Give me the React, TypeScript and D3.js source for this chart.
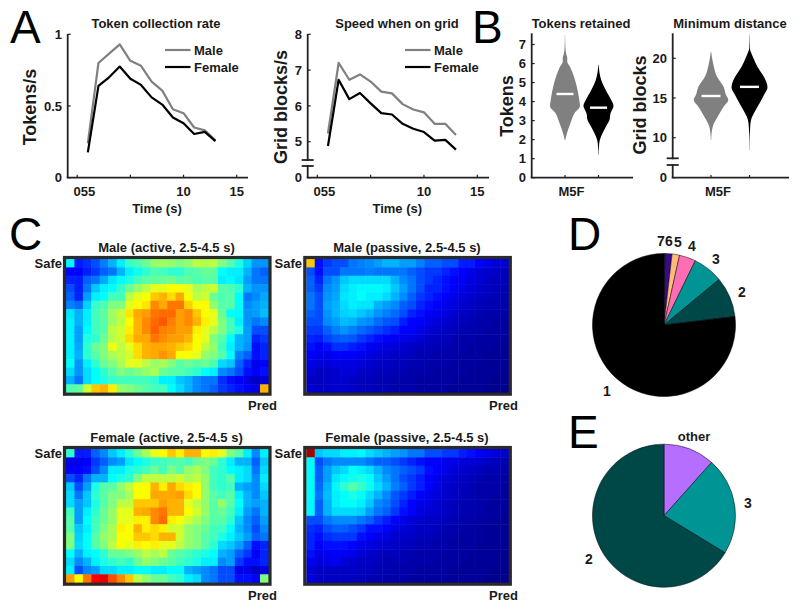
import React from 'react';
import * as d3 from 'd3';

// time bins (s) shared by both line plots
const timeBins = [1, 2, 3, 4, 5, 6, 7, 8, 9, 10, 11, 12, 13];
const tokenRateMale = [0.24, 0.8, 0.865, 0.93, 0.815, 0.78, 0.67, 0.607, 0.477, 0.45, 0.35, 0.33, 0.26];
const tokenRateFemale = [0.177, 0.64, 0.7, 0.775, 0.69, 0.647, 0.56, 0.51, 0.42, 0.38, 0.305, 0.32, 0.255];
const speedMale = [5.23, 7.2, 6.73, 6.88, 6.68, 6.4, 6.35, 6.05, 5.9, 5.82, 5.5, 5.5, 5.19];
const speedFemale = [4.88, 6.73, 6.19, 6.36, 6.07, 5.8, 5.76, 5.5, 5.36, 5.27, 5.03, 5.05, 4.78];
const xTicks = [0, 5, 10, 15];

// violins: [value, relative density]
const tokensMaleViolin = [[7.5, .01], [6.8, .03], [6.5, .08], [6.3, .15], [6.1, .15], [5.84, .33], [5.3, .6], [4.8, .78], [4.1, .95], [3.77, 1], [3.4, .64], [2.86, .36], [2.33, .13], [1.98, .02]];
const tokensFemaleViolin = [[5.93, .01], [5.14, .18], [4.6, .49], [4.09, .84], [3.77, 1], [3.39, .8], [3.03, .73], [2.68, .49], [2.33, .27], [1.98, .09], [1.63, .03], [1.2, .01]];
const distMaleViolin = [[20.84, .01], [19, .15], [17.7, .33], [16.4, .7], [15.4, .83], [14.75, .96], [13.9, .7], [12.65, .37], [11.5, .11], [10.5, .03], [9.7, .01]];
const distFemaleViolin = [[23, .005], [21.2, .02], [20.84, .07], [20, .22], [18.95, .44], [17.9, .74], [17.06, .93], [16.35, 1], [15.4, .81], [14.3, .55], [13.3, .3], [12.4, .11], [11.4, .04], [9.7, .01], [8.4, .005]];
const tokensMedians = [4.4, 3.68];
const distMedians = [15.25, 16.4];

// occupancy maps, jet colormap position in percent, 16 rows x 24 columns
const maleActive = [
  [37, 15, 17, 20, 25, 30, 36, 43, 45, 48, 52, 53, 52, 50, 52, 56, 55, 56, 50, 46, 40, 33, 27, 27],
  [13, 13, 15, 18, 22, 24, 30, 36, 39, 42, 45, 44, 42, 42, 45, 46, 48, 47, 38, 36, 36, 30, 24, 22],
  [16, 15, 22, 24, 29, 35, 38, 40, 44, 46, 47, 48, 49, 46, 47, 45, 46, 46, 36, 37, 35, 28, 24, 24],
  [20, 15, 24, 32, 36, 38, 43, 48, 52, 56, 60, 60, 62, 62, 60, 54, 56, 58, 46, 45, 42, 30, 27, 27],
  [22, 16, 28, 36, 38, 44, 44, 56, 60, 62, 68, 70, 66, 71, 62, 56, 58, 48, 45, 46, 38, 24, 26, 29],
  [25, 23, 33, 43, 45, 50, 50, 60, 63, 65, 74, 71, 76, 76, 67, 62, 63, 52, 46, 46, 38, 26, 28, 30],
  [35, 30, 36, 44, 47, 53, 57, 65, 71, 72, 76, 77, 77, 72, 74, 68, 62, 60, 48, 38, 37, 27, 28, 31],
  [36, 30, 36, 44, 46, 53, 56, 62, 70, 74, 77, 79, 75, 72, 74, 70, 64, 60, 50, 44, 36, 27, 24, 26],
  [36, 28, 37, 44, 46, 56, 58, 64, 70, 74, 78, 75, 74, 72, 72, 64, 60, 56, 50, 44, 40, 28, 20, 20],
  [36, 28, 40, 42, 48, 55, 58, 66, 71, 71, 76, 74, 72, 72, 70, 62, 60, 50, 46, 38, 30, 28, 16, 18],
  [36, 29, 42, 48, 50, 61, 56, 60, 66, 70, 71, 71, 70, 68, 66, 62, 56, 52, 44, 36, 30, 27, 14, 16],
  [36, 30, 42, 46, 50, 54, 56, 58, 66, 70, 71, 73, 71, 62, 62, 60, 52, 50, 46, 38, 25, 22, 14, 16],
  [38, 27, 36, 42, 48, 50, 54, 60, 60, 56, 52, 54, 50, 46, 48, 46, 48, 45, 34, 32, 22, 16, 10, 13],
  [34, 27, 34, 38, 42, 46, 50, 48, 50, 52, 54, 48, 46, 46, 44, 42, 38, 36, 26, 24, 20, 14, 12, 14],
  [30, 24, 34, 38, 40, 43, 44, 44, 44, 44, 42, 36, 36, 32, 30, 26, 24, 24, 17, 14, 12, 9, 6, 8],
  [45, 47, 58, 68, 70, 64, 52, 50, 48, 46, 44, 44, 38, 34, 30, 26, 24, 22, 18, 16, 14, 12, 10, 70],
];
const malePassive = [
  [68, 14, 18, 20, 20, 24, 25, 26, 28, 30, 30, 28, 28, 25, 22, 22, 20, 20, 15, 15, 13, 10, 8, 8],
  [20, 14, 20, 20, 24, 24, 24, 25, 24, 24, 24, 24, 22, 20, 18, 18, 16, 14, 12, 10, 8, 7, 6, 5],
  [22, 16, 24, 27, 32, 34, 34, 34, 34, 34, 30, 26, 24, 20, 18, 16, 14, 12, 11, 9, 8, 6, 5, 5],
  [22, 18, 26, 28, 34, 36, 37, 37, 37, 36, 32, 28, 24, 20, 16, 16, 14, 12, 10, 8, 7, 6, 5, 4],
  [24, 20, 27, 29, 35, 36, 38, 36, 36, 34, 30, 26, 22, 18, 16, 14, 12, 10, 8, 7, 6, 5, 4, 4],
  [24, 20, 28, 30, 34, 36, 35, 35, 30, 28, 26, 22, 20, 16, 14, 12, 10, 9, 7, 6, 5, 4, 4, 3],
  [22, 20, 27, 30, 33, 34, 32, 30, 27, 25, 23, 20, 16, 14, 12, 10, 9, 7, 6, 5, 4, 3, 3, 3],
  [20, 20, 26, 28, 31, 30, 27, 26, 23, 21, 20, 15, 13, 12, 10, 8, 7, 6, 5, 4, 3, 3, 2, 2],
  [18, 18, 22, 25, 27, 25, 23, 21, 19, 17, 15, 13, 12, 10, 8, 7, 6, 5, 4, 3, 3, 2, 2, 2],
  [16, 15, 19, 21, 22, 21, 18, 16, 14, 13, 11, 10, 9, 8, 6, 5, 5, 4, 3, 3, 2, 2, 2, 2],
  [14, 12, 14, 17, 17, 15, 14, 11, 10, 9, 8, 7, 6, 5, 5, 4, 4, 3, 3, 2, 2, 2, 1, 1],
  [12, 10, 10, 12, 12, 12, 10, 9, 8, 7, 6, 6, 5, 4, 4, 3, 3, 3, 2, 2, 2, 1, 1, 1],
  [10, 8, 8, 9, 9, 9, 8, 7, 6, 6, 5, 5, 4, 4, 3, 3, 3, 2, 2, 2, 1, 1, 1, 1],
  [8, 6, 6, 7, 8, 8, 6, 6, 5, 5, 4, 4, 3, 3, 3, 2, 2, 2, 2, 1, 1, 1, 1, 1],
  [6, 5, 6, 7, 7, 6, 5, 5, 4, 4, 3, 3, 3, 2, 2, 2, 2, 2, 1, 1, 1, 1, 0, 0],
  [7, 6, 6, 7, 7, 6, 5, 5, 4, 4, 3, 3, 3, 2, 2, 2, 2, 1, 1, 1, 1, 0, 0, 0],
];
const femaleActive = [
  [42, 15, 15, 22, 26, 32, 36, 42, 48, 54, 60, 62, 68, 64, 70, 70, 63, 64, 60, 50, 46, 36, 26, 36],
  [10, 10, 12, 18, 22, 26, 28, 35, 38, 40, 43, 44, 45, 46, 44, 48, 50, 48, 42, 36, 30, 30, 22, 32],
  [12, 12, 14, 20, 26, 36, 36, 40, 42, 44, 48, 44, 50, 46, 52, 54, 50, 44, 42, 38, 36, 34, 24, 34],
  [20, 16, 24, 30, 30, 38, 40, 42, 50, 56, 56, 56, 56, 58, 54, 56, 52, 44, 42, 46, 36, 34, 26, 36],
  [32, 20, 28, 40, 46, 46, 52, 56, 62, 62, 70, 64, 71, 66, 64, 62, 52, 44, 42, 44, 30, 28, 26, 34],
  [34, 24, 32, 42, 46, 50, 50, 54, 62, 62, 71, 71, 71, 72, 66, 62, 52, 46, 44, 46, 36, 30, 26, 32],
  [34, 28, 32, 40, 46, 50, 56, 56, 68, 68, 68, 72, 70, 70, 60, 56, 52, 46, 52, 46, 38, 30, 28, 30],
  [44, 28, 36, 42, 48, 52, 60, 60, 70, 71, 74, 76, 70, 70, 62, 58, 52, 46, 48, 44, 36, 28, 24, 30],
  [46, 28, 38, 44, 48, 52, 60, 60, 64, 64, 74, 77, 64, 62, 58, 54, 50, 46, 46, 42, 32, 26, 22, 28],
  [46, 32, 36, 44, 50, 54, 64, 62, 70, 64, 66, 64, 58, 58, 52, 50, 48, 44, 44, 38, 30, 26, 20, 26],
  [50, 33, 38, 46, 52, 54, 62, 62, 68, 68, 66, 70, 70, 58, 52, 50, 46, 44, 40, 36, 32, 28, 22, 24],
  [50, 34, 38, 46, 50, 56, 62, 60, 64, 62, 64, 60, 60, 56, 52, 50, 46, 42, 34, 32, 28, 22, 14, 16],
  [38, 30, 36, 38, 42, 48, 48, 50, 52, 56, 54, 56, 48, 46, 44, 42, 40, 38, 30, 28, 22, 18, 12, 16],
  [34, 26, 30, 36, 40, 42, 44, 42, 48, 52, 50, 48, 46, 44, 42, 40, 36, 36, 26, 28, 18, 14, 14, 16],
  [36, 20, 26, 28, 34, 34, 36, 36, 38, 38, 36, 36, 38, 38, 30, 28, 26, 24, 20, 20, 10, 10, 6, 9],
  [72, 62, 76, 88, 90, 80, 74, 68, 56, 52, 48, 48, 44, 42, 36, 34, 26, 24, 20, 20, 14, 14, 12, 50],
];
const femalePassive = [
  [96, 32, 34, 34, 36, 36, 37, 34, 32, 30, 28, 27, 24, 24, 20, 20, 18, 18, 15, 14, 12, 10, 8, 7],
  [38, 20, 24, 26, 26, 26, 26, 24, 22, 22, 20, 18, 16, 14, 12, 12, 10, 10, 8, 8, 7, 6, 5, 4],
  [38, 22, 28, 32, 34, 38, 36, 34, 30, 26, 24, 22, 20, 18, 14, 12, 10, 8, 7, 6, 5, 4, 4, 3],
  [38, 22, 28, 35, 37, 39, 40, 38, 32, 28, 24, 20, 18, 15, 13, 10, 8, 7, 6, 5, 4, 3, 3, 2],
  [38, 23, 30, 37, 42, 46, 43, 39, 34, 30, 25, 22, 18, 15, 12, 9, 7, 6, 5, 4, 3, 3, 3, 2],
  [38, 24, 31, 36, 38, 40, 38, 34, 30, 26, 21, 18, 15, 13, 10, 8, 7, 6, 5, 4, 3, 3, 2, 2],
  [37, 22, 30, 36, 38, 38, 36, 32, 26, 24, 20, 16, 13, 10, 9, 7, 6, 5, 4, 4, 3, 2, 2, 2],
  [37, 22, 30, 34, 34, 34, 33, 28, 24, 22, 18, 14, 12, 9, 8, 7, 6, 5, 4, 3, 3, 2, 2, 1],
  [20, 20, 24, 26, 26, 26, 24, 22, 18, 15, 13, 10, 8, 7, 6, 6, 5, 4, 3, 3, 2, 2, 1, 1],
  [17, 16, 20, 22, 22, 20, 18, 14, 14, 12, 9, 8, 7, 6, 6, 5, 4, 3, 3, 2, 2, 1, 1, 1],
  [16, 14, 17, 18, 18, 18, 14, 12, 10, 9, 7, 7, 6, 5, 5, 4, 3, 3, 2, 2, 2, 1, 1, 1],
  [16, 12, 14, 14, 14, 12, 10, 9, 8, 7, 6, 5, 5, 4, 4, 3, 3, 2, 2, 2, 1, 1, 1, 1],
  [14, 10, 11, 12, 11, 10, 8, 7, 6, 5, 5, 4, 4, 3, 3, 3, 2, 2, 2, 1, 1, 1, 1, 0],
  [11, 8, 10, 11, 8, 7, 6, 6, 5, 4, 4, 4, 3, 3, 3, 2, 2, 2, 2, 1, 1, 1, 1, 0],
  [8, 6, 6, 6, 6, 6, 5, 5, 4, 4, 3, 3, 3, 2, 2, 2, 2, 1, 1, 1, 1, 1, 0, 0],
  [9, 6, 6, 6, 6, 5, 5, 4, 4, 3, 3, 3, 2, 2, 2, 2, 2, 1, 1, 1, 1, 0, 0, 0],
];

// pies, percent, clockwise from 12 o'clock
const pieDValues = [0.2, 1.6, 1.7, 3.7, 6.8, 9.1, 76.9];
const pieDColors = ['#004848', '#3a0a8c', '#ffbb77', '#ff6eb4', '#009494', '#004848', '#000000'];
const pieEValues = [11.6, 22.1, 66.3];
const pieEColors = ['#b56eff', '#009494', '#004848'];

const GREY = '#808080';
const INK = '#222222';
const FONT = '"Liberation Sans", Arial, sans-serif';

const jet = d3.scaleLinear<string>()
  .domain([0, 12.5, 37.5, 62.5, 87.5, 100])
  .range(['#00008f', '#0000ff', '#00ffff', '#ffff00', '#ff0000', '#800000']);

const Txt = ({ x, y, size = 13, anchor = 'middle', rotate, weight = 'bold', children }: any) => (
  <text
    x={x} y={y} fontSize={size} fontWeight={weight} textAnchor={anchor} fontFamily={FONT} fill="#1a1a1a"
    transform={rotate ? `rotate(${rotate} ${x} ${y})` : undefined}
  >{children}</text>
);

const YBreak = ({ x, y1, y2 }: any) => (
  <g>
    <rect x={x - 1.5} y={y1 + 1} width={3} height={y2 - y1 - 2} fill="#fff" />
    <line x1={x - 6} x2={x + 6} y1={y1} y2={y1} stroke={INK} strokeWidth={1.8} />
    <line x1={x - 6} x2={x + 6} y1={y2} y2={y2} stroke={INK} strokeWidth={1.8} />
  </g>
);

const YAxis = ({ x, scale, ticks, labels, top, bottom = 177.7, labelX }: any) => (
  <g>
    <line x1={x} x2={x} y1={top} y2={bottom} stroke={INK} strokeWidth={1.8} />
    {ticks.map((t: number, i: number) => (
      <g key={t}>
        <line x1={x} x2={x + 3} y1={scale(t)} y2={scale(t)} stroke={INK} strokeWidth={1.2} />
        <Txt x={labelX} y={scale(t) + 4.7} anchor="end">{labels[i]}</Txt>
      </g>
    ))}
  </g>
);

const LinePanel = ({ x0, x1, xScale, yScale, male, female, title, titleX, yLabel, yLabelX, yLabelY, legendX, breakMarks, yTicks, yTickLabels, tickLabelX }: any) => {
  const line = d3.line<number>().x((_, i) => xScale(timeBins[i])).y(d => yScale(d));
  return (
    <g>
      <Txt x={titleX} y={28}>{title}</Txt>
      <YAxis x={x0} scale={yScale} ticks={yTicks} labels={yTickLabels} top={34} labelX={tickLabelX} />
      {breakMarks && <YBreak x={x0} y1={160} y2={166} />}
      <line x1={x0 - 1} x2={x1} y1={177.7} y2={177.7} stroke={INK} strokeWidth={1.8} />
      {xTicks.map(t => (
        <line key={t} x1={xScale(t)} x2={xScale(t)} y1={177.7} y2={174.7} stroke={INK} strokeWidth={1.2} />
      ))}
      {/* the 0 and 5 labels sit on top of each other in the source figure */}
      <Txt x={xScale(0.67)} y={196}>055</Txt>
      <Txt x={xScale(10)} y={196}>10</Txt>
      <Txt x={xScale(15)} y={196}>15</Txt>
      <Txt x={xScale(7.5)} y={213}>Time (s)</Txt>
      <Txt x={yLabelX} y={yLabelY} size={18} rotate={-90}>{yLabel}</Txt>
      <path d={line(male) ?? ''} fill="none" stroke={GREY} strokeWidth={2.2} strokeLinejoin="round" />
      <path d={line(female) ?? ''} fill="none" stroke="#000" strokeWidth={2.2} strokeLinejoin="round" />
      <line x1={legendX} x2={legendX + 25.5} y1={50} y2={50} stroke={GREY} strokeWidth={2.2} />
      <line x1={legendX} x2={legendX + 25.5} y1={67} y2={67} stroke="#000" strokeWidth={2.2} />
      <Txt x={legendX + 29} y={55} anchor="start">Male</Txt>
      <Txt x={legendX + 29} y={72} anchor="start">Female</Txt>
    </g>
  );
};

const Violin = ({ cx, profile, yScale, halfWidth, fill, median, medianHalf }: any) => {
  const w = d3.scaleLinear().domain([0, 1]).range([0, halfWidth]);
  const area = d3.area<number[]>()
    .y(d => yScale(d[0]))
    .x0(d => cx - w(d[1]))
    .x1(d => cx + w(d[1]))
    .curve(d3.curveMonotoneY);
  return (
    <g>
      <path d={area(profile) ?? ''} fill={fill} />
      <line x1={cx - medianHalf} x2={cx + medianHalf} y1={yScale(median)} y2={yScale(median)} stroke="#fff" strokeWidth={2.4} />
    </g>
  );
};

const ViolinPanel = ({ x0, x1, yScale, cxM, cxF, title, titleX, yLabel, yLabelX, yLabelY, ticks, tickLabels, labelX, profiles, medians, halfM, halfF, medHalf, labelCx, breakMarks }: any) => (
  <g>
    <Txt x={titleX} y={28}>{title}</Txt>
    <YAxis x={x0} scale={yScale} ticks={ticks} labels={tickLabels} top={33.3} labelX={labelX} />
    {breakMarks && <YBreak x={x0} y1={158.3} y2={165} />}
    <line x1={x0 - 1} x2={x1} y1={177.7} y2={177.7} stroke={INK} strokeWidth={1.8} />
    {[cxM, cxF].map((c: number) => (
      <line key={c} x1={c} x2={c} y1={177.7} y2={175} stroke={INK} strokeWidth={1.2} />
    ))}
    <Txt x={labelCx} y={196}>M5F</Txt>
    <Txt x={yLabelX} y={yLabelY} size={18} rotate={-90}>{yLabel}</Txt>
    <Violin cx={cxM} profile={profiles[0]} yScale={yScale} halfWidth={halfM} fill={GREY} median={medians[0]} medianHalf={medHalf} />
    <Violin cx={cxF} profile={profiles[1]} yScale={yScale} halfWidth={halfF} fill="#000" median={medians[1]} medianHalf={medHalf} />
  </g>
);

const Heatmap = ({ values, left, top, title, titleX, safeX, pred }: any) => {
  const cols = d3.range(24);
  const rows = d3.range(16);
  const x = d3.scaleBand<number>().domain(cols).range([left, left + 202.5]);
  const y = d3.scaleBand<number>().domain(rows).range([top, top + 133.7]);
  return (
    <g>
      <g filter="url(#soften)">
        {rows.map(r => cols.map(c => (
          <rect key={`${r}-${c}`} x={x(c)} y={y(r)} width={x.bandwidth() + 0.5} height={y.bandwidth() + 0.5} fill={jet(values[r][c])} />
        )))}
      </g>
      <rect x={left - 1.5} y={top - 1.5} width={205.5} height={136.7} fill="none" stroke="#2a2a2a" strokeWidth={3.2} />
      <Txt x={titleX} y={top - 7}>{title}</Txt>
      <Txt x={safeX} y={top + 8.5} anchor="end">Safe</Txt>
      <Txt x={pred} y={top + 151} anchor="end">Pred</Txt>
    </g>
  );
};

const Pie = ({ cx, cy, values, colors, radius }: any) => {
  const arcs = d3.pie<number>().sort(null)(values);
  const arc = d3.arc<d3.PieArcDatum<number>>().innerRadius(0).outerRadius(radius);
  return (
    <g transform={`translate(${cx},${cy})`}>
      {arcs.map((a, i) => (
        <path key={i} d={arc(a) ?? ''} fill={colors[i]} stroke="#000" strokeWidth={0.5} />
      ))}
    </g>
  );
};

const PanelLetter = ({ x, y, children }: any) => (
  <text x={x} y={y} fontSize={46} fontFamily={FONT} fill="#000">{children}</text>
);

export default function App() {
  const xA = d3.scaleLinear().domain([0, 15]).range([77.2, 236.7]);
  const yA = d3.scaleLinear().domain([0, 1]).range([177.7, 34.3]);
  const xSpeed = d3.scaleLinear().domain([0, 15]).range([317.3, 477.3]);
  const ySpeed = d3.scaleLinear().domain([0, 4.5, 8]).range([177.7, 159.6, 34.3]);
  const yTokens = d3.scaleLinear().domain([0, 7]).range([177.7, 44.5]);
  const yDist = d3.scaleLinear().domain([0, 7.4, 23.15]).range([177.7, 158.3, 33.3]);

  return (
    <svg width={800} height={611} style={{ position: 'absolute', left: 0, top: 0, background: '#fff' }}>
      <defs>
        <filter id="soften" x="-2%" y="-2%" width="104%" height="104%">
          <feGaussianBlur stdDeviation={0.5} />
        </filter>
      </defs>
      <PanelLetter x={10} y={43}>A</PanelLetter>
      <PanelLetter x={472} y={43}>B</PanelLetter>
      <PanelLetter x={9} y={250}>C</PanelLetter>
      <PanelLetter x={568} y={250}>D</PanelLetter>
      <PanelLetter x={568} y={448}>E</PanelLetter>

      <LinePanel
        x0={67.7} x1={248} xScale={xA} yScale={yA} male={tokenRateMale} female={tokenRateFemale}
        title="Token collection rate" titleX={156} yLabel="Tokens/s" yLabelX={36} yLabelY={107} legendX={165}
        yTicks={[0, 0.5, 1]} yTickLabels={['0', '0.5', '1']} tickLabelX={62}
      />
      <LinePanel
        x0={307.7} x1={489} xScale={xSpeed} yScale={ySpeed} male={speedMale} female={speedFemale}
        title="Speed when on grid" titleX={397} yLabel="Grid blocks/s" yLabelX={287} yLabelY={107} legendX={405} breakMarks
        yTicks={[0, 5, 6, 7, 8]} yTickLabels={['0', '5', '6', '7', '8']} tickLabelX={302}
      />
      <ViolinPanel
        x0={531.7} x1={633} yScale={yTokens} cxM={565} cxF={598.5}
        title="Tokens retained" titleX={581} yLabel="Tokens" yLabelX={513} yLabelY={106}
        ticks={[0, 1, 2, 3, 4, 5, 6, 7]} tickLabels={['0', '1', '2', '3', '4', '5', '6', '7']} labelX={526}
        profiles={[tokensMaleViolin, tokensFemaleViolin]} medians={tokensMedians} halfM={15} halfF={15} medHalf={8.5} labelCx={571.5}
      />
      <ViolinPanel
        x0={672.7} x1={789} yScale={yDist} cxM={711} cxF={749.5}
        title="Minimum distance" titleX={730} yLabel="Grid blocks" yLabelX={646} yLabelY={105} breakMarks
        ticks={[0, 10, 15, 20]} tickLabels={['0', '10', '15', '20']} labelX={667}
        profiles={[distMaleViolin, distFemaleViolin]} medians={distMedians} halfM={18} halfF={18} medHalf={9.5} labelCx={718}
      />

      <Heatmap values={maleActive} left={66} top={259} title="Male (active, 2.5-4.5 s)" titleX={166.5} safeX={62} pred={277} />
      <Heatmap values={malePassive} left={306.3} top={259} title="Male (passive, 2.5-4.5 s)" titleX={407} safeX={302} pred={518} />
      <Heatmap values={femaleActive} left={66} top={449} title="Female (active, 2.5-4.5 s)" titleX={166.5} safeX={62} pred={277} />
      <Heatmap values={femalePassive} left={306.3} top={449} title="Female (passive, 2.5-4.5 s)" titleX={407} safeX={302} pred={518} />

      <Pie cx={664} cy={325} values={pieDValues} colors={pieDColors} radius={71.5} />
      <Pie cx={664} cy={515.7} values={pieEValues} colors={pieEColors} radius={71.5} />
      {[['7', 661, 246], ['6', 669, 246], ['5', 678, 247], ['4', 692, 251], ['3', 716, 264], ['2', 742, 297], ['1', 607, 396]].map(([t, x, y]) => (
        <Txt key={t as string} x={x} y={y} size={14}>{t}</Txt>
      ))}
      <Txt x={694} y={441}>other</Txt>
      <Txt x={748} y={508} size={14}>3</Txt>
      <Txt x={589} y={564} size={14}>2</Txt>
    </svg>
  );
}
